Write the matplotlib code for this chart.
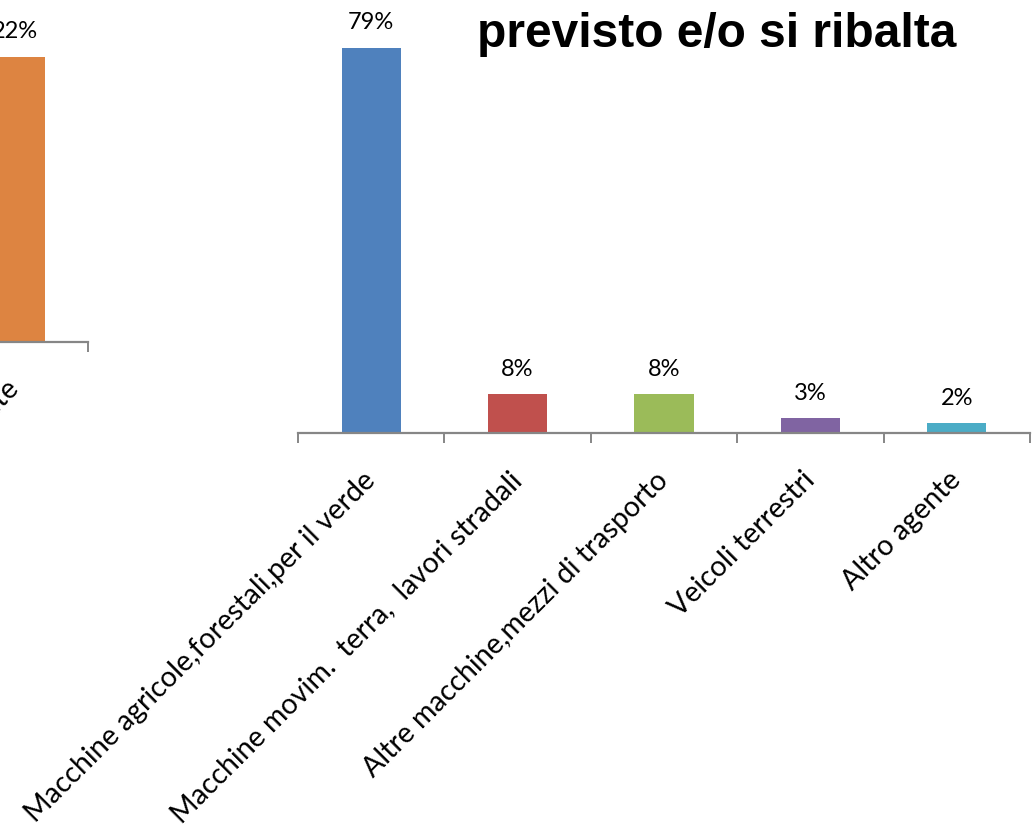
import matplotlib

matplotlib.use("Agg")
import matplotlib.pyplot as plt
import numpy as np

# data
categories = [
    "Macchine agricole,forestali,per il verde",
    "Macchine movim.  terra,  lavori stradali",
    "Altre macchine,mezzi di trasporto",
    "Veicoli terrestri",
    "Altro agente",
]
values = [79, 8, 8, 3, 2]
bar_colors = ["#4F81BD", "#C0504D", "#9BBB59", "#8064A2", "#4BACC6"]

# partially visible chart at the left edge
left_categories = ["Altro agente"]
left_values = [22]
left_colors = ["#DD8441"]

title = "previsto e/o si ribalta"

W, H = 1036, 832
AXIS_GRAY = "#868686"
LABEL_FONT = ["Lato", "DejaVu Sans"]

fig = plt.figure(figsize=(W / 100, H / 100), dpi=100)


def px_axes(x0, y_base, width, height):
    """Axes placed in pixel units (y_base = baseline from the top)."""
    return fig.add_axes([x0 / W, (H - y_base) / H, width / W, height / H])


def bar_panel(ax, cats, vals, cols, ymax):
    x = np.arange(len(cats))
    ax.bar(x, vals, width=0.405, color=cols, zorder=2)
    ax.set_xlim(-0.5, len(cats) - 0.5)
    ax.set_ylim(0, ymax)
    for side in ("top", "left", "right"):
        ax.spines[side].set_visible(False)
    ax.spines["bottom"].set_color(AXIS_GRAY)
    ax.spines["bottom"].set_linewidth(1.6)
    ax.set_yticks([])
    ax.set_xticks(x)
    ax.set_xticklabels([])
    ax.tick_params(axis="x", which="major", length=0)
    ax.set_xticks(np.arange(-0.5, len(cats), 1), minor=True)
    ax.tick_params(axis="x", which="minor", length=7.5, width=1.4,
                   color=AXIS_GRAY, direction="out")
    ax.patch.set_visible(False)

    for xi, v in zip(x, vals):
        ax.annotate(f"{v}%", xy=(xi, v), xytext=(0, 18),
                    textcoords="offset points", ha="center", va="center",
                    fontsize=17, family=LABEL_FONT, color="#000000")
    for xi, c in zip(x, cats):
        ax.annotate(c, xy=(xi, 0), xycoords=("data", "axes fraction"),
                    xytext=(0, -31), textcoords="offset points",
                    rotation=45, rotation_mode="anchor",
                    ha="right", va="center",
                    fontsize=20.5, family=LABEL_FONT, color="#000000")


ax = px_axes(298, 433, 732, 390)
bar_panel(ax, categories, values, bar_colors, 80)

axl = px_axes(-58, 342, 146, 324)
bar_panel(axl, left_categories, left_values, left_colors, 25)

fig.text(477 / W, 1 - 47 / H, title, fontsize=34.5, fontweight="bold",
         family="Liberation Sans", ha="left", va="baseline")

fig.savefig("out.png", dpi=100)
